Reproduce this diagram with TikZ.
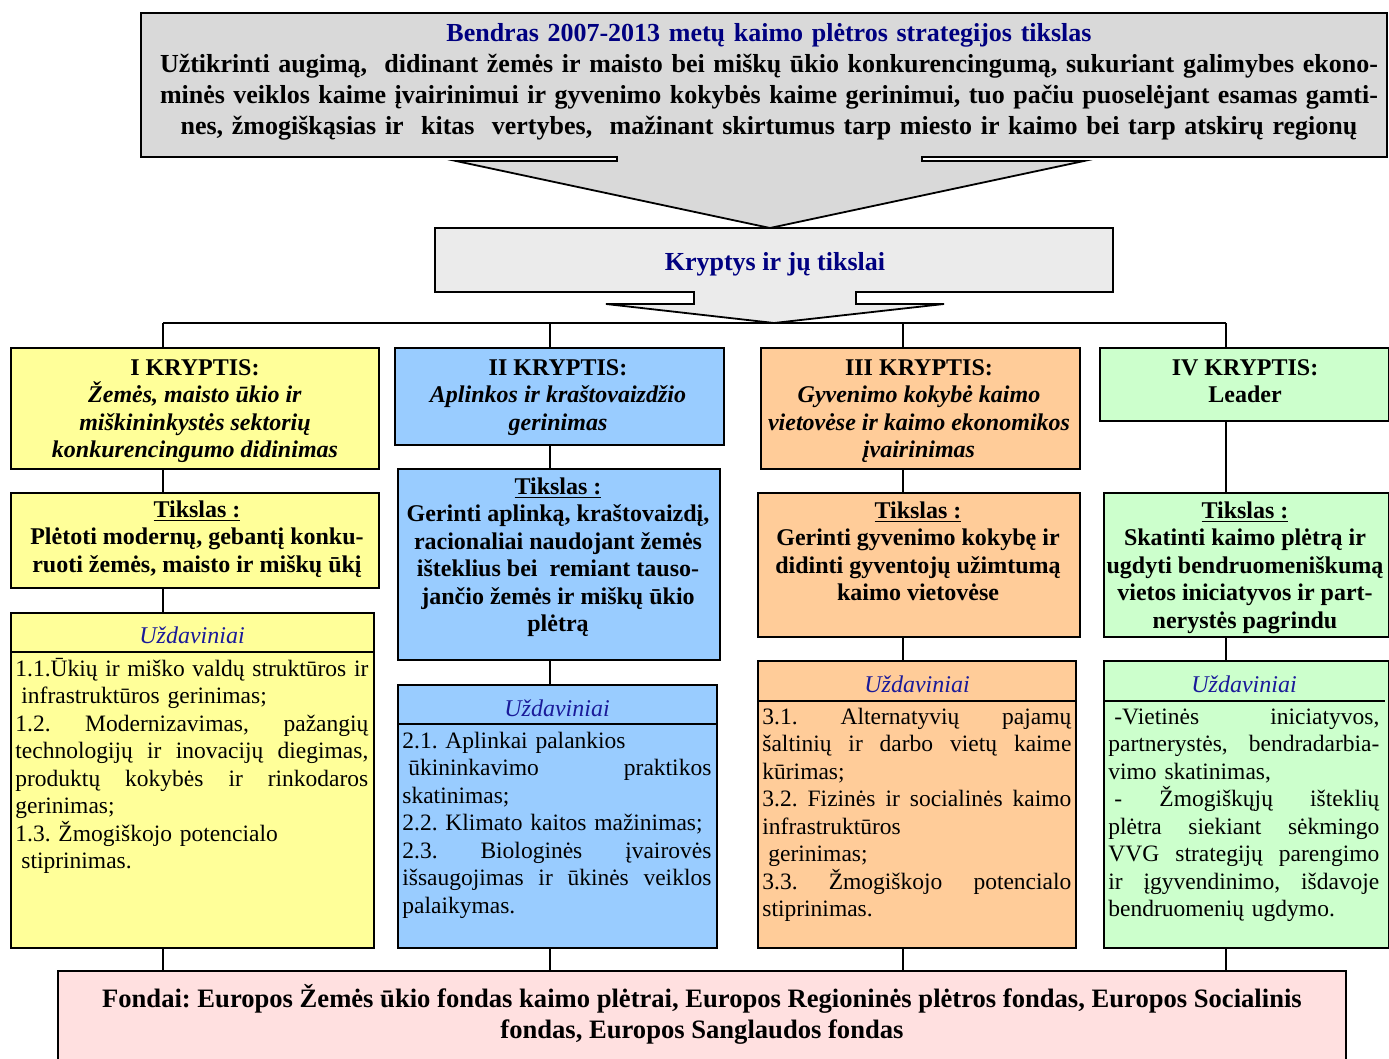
\documentclass[tikz,border=0pt]{standalone}
\usepackage{fontspec}
\setmainfont{Liberation Serif}
\usetikzlibrary{positioning}
\frenchspacing

\definecolor{goalgray}{HTML}{D9D9D9}
\definecolor{dirgray}{HTML}{EBEBEB}
\definecolor{dirI}{HTML}{FFFF99}
\definecolor{dirII}{HTML}{99CCFF}
\definecolor{dirIII}{HTML}{FFCC99}
\definecolor{dirIV}{HTML}{CCFFCC}
\definecolor{fundpink}{HTML}{FFE0E0}
\definecolor{titleblue}{HTML}{000080}
\definecolor{taskblue}{HTML}{1A1A99}

% strut for the first line, justified line of width \colw
\newlength{\colw}
\newcommand{\tstrut}{\rule{0pt}{0.92em}}
\newcommand{\jline}[1]{{\spaceskip=0.25em plus 3em minus 0.08em\makebox[\colw][s]{#1}}}

\begin{document}
\begin{tikzpicture}[x=0.5pt, y=-0.5pt,
    panel/.style 2 args={draw, line width=0.9pt, anchor=north west, inner sep=0pt,
        minimum width=#1*0.5pt, minimum height=#2*0.5pt},
    link/.style={line width=0.8pt},
    bigtext/.style={font=\fontsize{13}{15.5}\selectfont\bfseries, inner sep=0pt},
    dirtext/.style={font=\fontsize{12}{13.7}\selectfont\bfseries, align=center, anchor=north, inner sep=0pt},
    taskhead/.style={font=\fontsize{12}{13.75}\selectfont\itshape, text=taskblue, anchor=base, inner sep=0pt},
    tasks/.style={font=\fontsize{11.75}{13.75}\selectfont, align=left, anchor=north west, inner sep=0pt,
        text width=#1, execute at begin node={\setlength{\colw}{#1}}},
]
    \useasboundingbox (0,0) rectangle (1389,1059);
    \clip (0,0) rectangle (1389,1059);

    % general goal with its arrow
    \draw[line width=0.9pt, fill=goalgray] (141,13) -- (1387,13) -- (1387,157) -- (922,157) -- (922,161)
        -- (1084,161) -- (770,228) -- (456,161) -- (617,161) -- (617,157) -- (141,157) -- cycle;
    \node[bigtext, anchor=north, align=center, text width=609pt,
        execute at begin node={\setlength{\colw}{609pt}}] (goal) at (769,17) {\tstrut{\color{titleblue}Bendras 2007-2013 metų kaimo plėtros strategijos tikslas}\\
        \jline{Užtikrinti augimą,\ \ didinant žemės ir maisto bei miškų ūkio konkurencingumą, sukuriant galimybes ekono-}\\
        \jline{minės veiklos kaime įvairinimui ir gyvenimo kokybės kaime gerinimui, tuo pačiu puoselėjant esamas gamti-}\\
        nes, žmogiškąsias ir\ \ kitas\ \ vertybes,\ \ mažinant skirtumus tarp miesto ir kaimo bei tarp atskirų regionų};

    % directions arrow
    \draw[line width=0.9pt, fill=dirgray] (435,228) -- (1113,228) -- (1113,292) -- (856,292) -- (856,304)
        -- (944,304) -- (774,323) -- (606,304) -- (694,304) -- (694,292) -- (435,292) -- cycle;
    \node[bigtext, text=titleblue, anchor=base] (dirs) at (775,271) {Kryptys ir jų tikslai};

    % bus
    \coordinate (c1) at (163,323);
    \coordinate (c2) at (550,323);
    \coordinate (c3) at (903,323);
    \coordinate (c4) at (1226,323);
    \draw[link] (c1) -- (c4);

    % boxes
    \node[panel={368}{121}, fill=dirI] (k1) at (10,347) {};
    \node[panel={329}{97}, fill=dirII] (k2) at (394,347) {};
    \node[panel={319}{121}, fill=dirIII] (k3) at (760,347) {};
    \node[panel={289}{73}, fill=dirIV] (k4) at (1099,347) {};

    \node[panel={368}{95}, fill=dirI] (t1) at (10,492) {};
    \node[panel={322}{191}, fill=dirII] (t2) at (397,468) {};
    \node[panel={322}{144}, fill=dirIII] (t3) at (757,492) {};
    \node[panel={285}{144}, fill=dirIV] (t4) at (1103,492) {};

    \node[panel={363}{335}, fill=dirI] (u1) at (10,612) {};
    \node[panel={319}{263}, fill=dirII] (u2) at (397,684) {};
    \node[panel={318}{287}, fill=dirIII] (u3) at (757,660) {};
    \node[panel={285}{287}, fill=dirIV] (u4) at (1103,660) {};

    \node[panel={1288}{110}, fill=fundpink] (f) at (57,970) {};

    % connectors
    \draw[link] (c1) -- (c1 |- k1.north);
    \draw[link] (c2) -- (c2 |- k2.north);
    \draw[link] (c3) -- (c3 |- k3.north);
    \draw[link] (c4) -- (c4 |- k4.north);
    \draw[link] (c1 |- k1.south) -- (c1 |- t1.north);
    \draw[link] (c2 |- k2.south) -- (c2 |- t2.north);
    \draw[link] (c3 |- k3.south) -- (c3 |- t3.north);
    \draw[link] (c4 |- k4.south) -- (c4 |- t4.north);
    \draw[link] (c1 |- t1.south) -- (c1 |- u1.north);
    \draw[link] (c2 |- t2.south) -- (c2 |- u2.north);
    \draw[link] (c3 |- t3.south) -- (c3 |- u3.north);
    \draw[link] (c4 |- t4.south) -- (c4 |- u4.north);
    \draw[link] (c1 |- u1.south) -- (c1 |- f.north);
    \draw[link] (c2 |- u2.south) -- (c2 |- f.north);
    \draw[link] (c3 |- u3.south) -- (c3 |- f.north);
    \draw[link] (c4 |- u4.south) -- (c4 |- f.north);

    % header rules
    \draw[line width=0.9pt] ([yshift=-20pt]u1.north west) -- ([yshift=-20pt]u1.north east);
    \draw[line width=0.9pt] ([yshift=-20pt]u2.north west) -- ([yshift=-20pt]u2.north east);
    \draw[line width=0.9pt] ([yshift=-20.5pt]u3.north west) -- ([yshift=-20.5pt]u3.north east);
    \draw[line width=0.9pt] ([yshift=-20.5pt]u4.north west) -- ([yshift=-20.5pt, xshift=-2.5pt]u4.north east);

    % directions
    \node[dirtext] (k1text) at (195,353) {\tstrut I KRYPTIS:\\ \textit{Žemės, maisto ūkio ir}\\
        \textit{miškininkystės sektorių}\\ \textit{konkurencingumo didinimas}};
    \node[dirtext] (k2text) at (558,353) {\tstrut II KRYPTIS:\\ \textit{Aplinkos ir kraštovaizdžio}\\ \textit{gerinimas}};
    \node[dirtext] (k3text) at (919,353) {\tstrut III KRYPTIS:\\ \textit{Gyvenimo kokybė kaimo}\\
        \textit{vietovėse ir kaimo ekonomikos}\\ \textit{įvairinimas}};
    \node[dirtext] (k4text) at (1245,353) {\tstrut IV KRYPTIS:\\ Leader};

    % goals
    \node[dirtext] (t1text) at (197,495) {\tstrut\underline{Tikslas :}\\ Plėtoti modernų, gebantį konku-\\
        ruoti žemės, maisto ir miškų ūkį};
    \node[dirtext] (t2text) at (558,472) {\tstrut\underline{Tikslas :}\\ Gerinti aplinką, kraštovaizdį,\\
        racionaliai naudojant žemės\\ išteklius bei\ \ remiant tauso-\\ jančio žemės ir miškų ūkio\\ plėtrą};
    \node[dirtext] (t3text) at (918,496) {\tstrut\underline{Tikslas :}\\ Gerinti gyvenimo kokybę ir\\
        didinti gyventojų užimtumą\\ kaimo vietovėse};
    \node[dirtext] (t4text) at (1245,496) {\tstrut\underline{Tikslas :}\\ Skatinti kaimo plėtrą ir\\
        ugdyti bendruomeniškumą\\ vietos iniciatyvos ir part-\\ nerystės pagrindu};

    % tasks
    \node[taskhead] (u1head) at (192,644) {Uždaviniai};
    \node[taskhead] (u2head) at (557,716) {Uždaviniai};
    \node[taskhead] (u3head) at (917,692) {Uždaviniai};
    \node[taskhead] (u4head) at (1244,692) {Uždaviniai};

    \node[tasks=176.5pt] (u1text) at (15,654) {\tstrut\jline{1.1.Ūkių ir miško valdų struktūros ir}\\
        \hspace*{3pt}infrastruktūros gerinimas;\\
        \jline{1.2. Modernizavimas, pažangių}\\
        \jline{technologijų ir inovacijų diegimas,}\\
        \jline{produktų kokybės ir rinkodaros}\\
        gerinimas;\\
        1.3. Žmogiškojo potencialo\\
        \hspace*{3pt}stiprinimas.};
    \node[tasks=154.5pt] (u2text) at (402,726) {\tstrut 2.1. Aplinkai palankios\\
        \jline{\hspace*{3pt}ūkininkavimo praktikos}\\
        skatinimas;\\
        2.2. Klimato kaitos mažinimas;\\
        \jline{2.3. Biologinės įvairovės}\\
        \jline{išsaugojimas ir ūkinės veiklos}\\
        palaikymas.};
    \node[tasks=154.5pt] (u3text) at (762,702) {\tstrut\jline{3.1. Alternatyvių pajamų}\\
        \jline{šaltinių ir darbo vietų kaime}\\
        kūrimas;\\
        \jline{3.2. Fizinės ir socialinės kaimo}\\
        infrastruktūros\\
        \hspace*{3pt}gerinimas;\\
        \jline{3.3. Žmogiškojo potencialo}\\
        stiprinimas.};
    \node[tasks=135.5pt] (u4text) at (1108,702) {\tstrut\jline{\hspace*{3pt}-Vietinės iniciatyvos,}\\
        \jline{partnerystės,\ \ bendradarbia-}\\
        vimo skatinimas,\\
        \jline{\hspace*{3pt}- Žmogiškųjų išteklių}\\
        \jline{plėtra siekiant sėkmingo}\\
        \jline{VVG strategijų parengimo}\\
        \jline{ir įgyvendinimo, išdavoje}\\
        bendruomenių ugdymo.};

    % funds
    \node[bigtext, font=\fontsize{13.3}{15.5}\selectfont\bfseries, anchor=north, align=center] (ftext) at (702,983) {\tstrut Fondai: Europos Žemės ūkio fondas kaimo plėtrai, Europos Regioninės plėtros fondas, Europos Socialinis\\
        fondas, Europos Sanglaudos fondas};
\end{tikzpicture}
\end{document}
